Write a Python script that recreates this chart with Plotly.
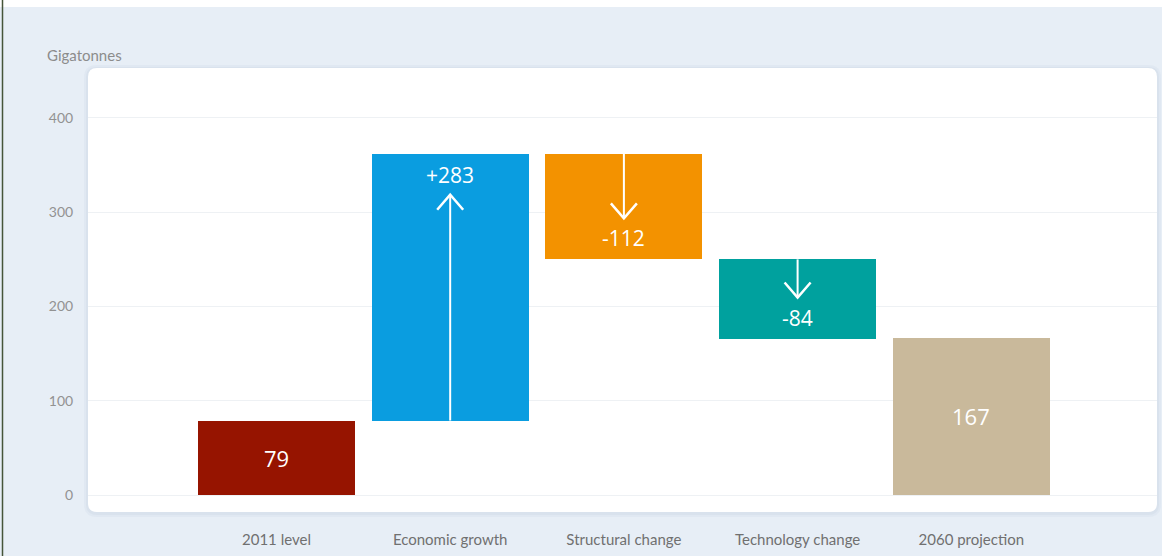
import plotly.graph_objects as go

# ---- data ----
categories = ["2011 level", "Economic growth", "Structural change", "Technology change", "2060 projection"]
values = [79, 283, -112, -84, 167]
kinds = ["total", "delta", "delta", "delta", "total"]
colors = ["#961400", "#0a9de0", "#f39200", "#00a19e", "#c9b99b"]
y_ticks = [0, 100, 200, 300, 400]
y_title = "Gigatonnes"

# ---- layout geometry (pixels) ----
W, H = 1162, 556
ML, MR, MT, MB = 88, 5, 68, 44
PW, PH = W - ML - MR, H - MT - MB
Y_RANGE = [-18, 453]
X_RANGE = [-1.085, 5.069]
px_per_unit = PH / (Y_RANGE[1] - Y_RANGE[0])
px_per_cat = PW / (X_RANGE[1] - X_RANGE[0])


def px2paper_x(px):
    return (px - ML) / PW


def px2paper_y(py):
    return (H - MB - py) / PH


def d(px):  # pixel distance -> data units (y)
    return px / px_per_unit


# compute bases
bases, heights = [], []
running = 0
for v, k in zip(values, kinds):
    if k == "total":
        bases.append(0)
        heights.append(v)
        running = v
    else:
        bases.append(running)
        heights.append(v)
        running += v

xs = list(range(len(categories)))

fig = go.Figure()
fig.add_trace(go.Bar(
    x=xs, y=heights, base=bases, width=0.905,
    marker=dict(color=colors, line=dict(width=0)),
    hoverinfo="skip", showlegend=False,
))

annotations = []
shapes = []

# background strip / border
shapes.append(dict(type="rect", xref="paper", yref="paper",
                   x0=px2paper_x(0), x1=px2paper_x(W), y0=px2paper_y(7), y1=px2paper_y(0),
                   fillcolor="white", line=dict(width=0), layer="below"))
shapes.append(dict(type="line", xref="paper", yref="paper",
                   x0=px2paper_x(2.5), x1=px2paper_x(2.5), y0=px2paper_y(0), y1=px2paper_y(H),
                   line=dict(color="#46553a", width=1.5), layer="above"))


def rounded_rect(x0, y0, x1, y1, r):
    # pixel coords (y down) -> paper path
    X = px2paper_x
    Y = px2paper_y
    return (f"M {X(x0+r)},{Y(y0)} L {X(x1-r)},{Y(y0)} Q {X(x1)},{Y(y0)} {X(x1)},{Y(y0+r)} "
            f"L {X(x1)},{Y(y1-r)} Q {X(x1)},{Y(y1)} {X(x1-r)},{Y(y1)} "
            f"L {X(x0+r)},{Y(y1)} Q {X(x0)},{Y(y1)} {X(x0)},{Y(y1-r)} "
            f"L {X(x0)},{Y(y0+r)} Q {X(x0)},{Y(y0)} {X(x0+r)},{Y(y0)} Z")


# soft shadow + white panel
for k, alpha in [(4, 0.15), (2, 0.22)]:
    shapes.append(dict(type="path", xref="paper", yref="paper",
                       path=rounded_rect(ML - k, MT - k + 1, W - MR + k, H - MB + k + 1, 9 + k),
                       fillcolor=f"rgba(190,204,220,{alpha})", line=dict(width=0), layer="below"))
shapes.append(dict(type="path", xref="paper", yref="paper",
                   path=rounded_rect(ML, MT, W - MR, H - MB, 9),
                   fillcolor="white", line=dict(width=0), layer="below"))

# value labels and arrows
half_w = 13 / px_per_cat
chev_h = d(15)
for i, (v, k, b) in enumerate(zip(values, kinds, bases)):
    if k == "total":
        annotations.append(dict(x=i, y=v / 2, xref="x", yref="y", text=str(v), showarrow=False,
                                font=dict(family="Open Sans", size=22, color="white")))
        continue
    end = b + v
    sign = 1 if v > 0 else -1
    label_y = end - sign * d(21)
    tip_y = end - sign * d(41)
    txt = f"+{v}" if v > 0 else f"-{abs(v)}"
    annotations.append(dict(x=i, y=label_y, xref="x", yref="y", text=txt, showarrow=False,
                            font=dict(family="Open Sans", size=21, color="white")))
    # shaft
    shapes.append(dict(type="line", xref="x", yref="y", x0=i, x1=i, y0=b, y1=tip_y,
                       line=dict(color="white", width=2), layer="above"))
    # chevron head
    back = tip_y - sign * chev_h
    shapes.append(dict(type="path", xref="x", yref="y",
                       path=f"M {i-half_w},{back} L {i},{tip_y} L {i+half_w},{back}",
                       line=dict(color="white", width=2.5), layer="above"))

annotations.append(dict(x=px2paper_x(45), y=px2paper_y(55), xref="paper", yref="paper",
                        text=y_title, showarrow=False, xanchor="left", yanchor="middle",
                        font=dict(family="Lato", size=15, color="#8c8c8c")))

fig.update_layout(
    width=W, height=H,
    margin=dict(l=ML, r=MR, t=MT, b=MB, pad=0),
    paper_bgcolor="#e7eef6",
    plot_bgcolor="rgba(0,0,0,0)",
    shapes=shapes,
    annotations=annotations,
    bargap=0,
    xaxis=dict(range=X_RANGE, tickmode="array", tickvals=xs, ticktext=categories,
               showgrid=False, zeroline=False, showline=False,
               ticks="outside", ticklen=14, tickcolor="rgba(0,0,0,0)",
               tickfont=dict(family="Lato", size=15, color="#707070"), fixedrange=True),
    yaxis=dict(range=Y_RANGE, tickmode="array", tickvals=y_ticks,
               showgrid=True, gridcolor="#eef1f4", gridwidth=1, zeroline=False, showline=False,
               ticks="outside", ticklen=11, tickcolor="rgba(0,0,0,0)",
               tickfont=dict(family="Lato", size=14, color="#929292"), fixedrange=True),
    font=dict(family="Lato"),
)

fig.write_html("out.html", config={"displayModeBar": False},
               post_script="document.body.style.margin='0';document.body.style.overflow='hidden';")
